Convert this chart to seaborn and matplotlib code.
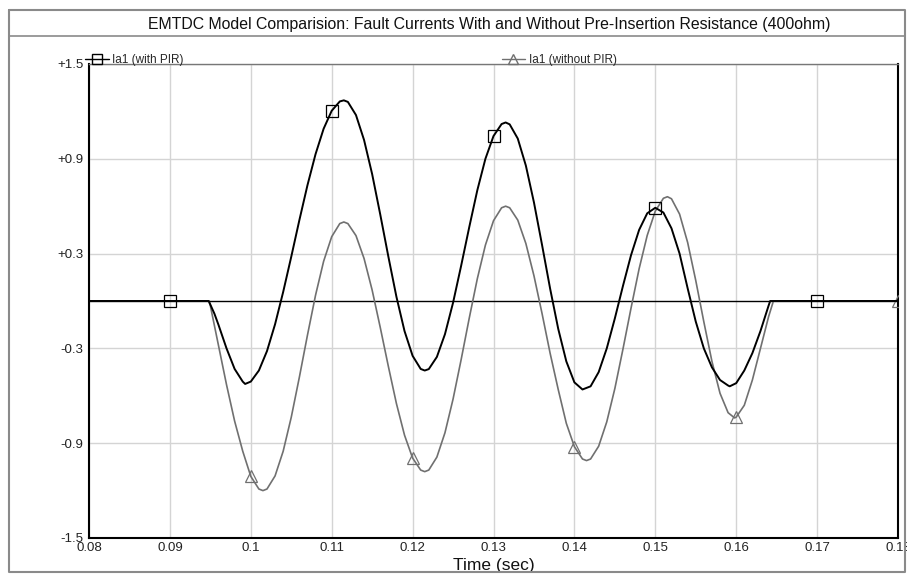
import numpy as np
import pandas as pd
import matplotlib
matplotlib.use("Agg")
import matplotlib.pyplot as plt
from matplotlib.lines import Line2D
import seaborn as sns

# ---------------- data ----------------
t_with = [0.080, 0.090, 0.0948, 0.0955, 0.096, 0.097, 0.098, 0.099, 0.0993,
          0.100, 0.101, 0.102, 0.103, 0.104, 0.105, 0.106, 0.107, 0.108, 0.109,
          0.110, 0.111, 0.1115, 0.112, 0.113, 0.114, 0.115, 0.116, 0.117, 0.118,
          0.119, 0.120, 0.121, 0.1215, 0.122, 0.123, 0.124, 0.125, 0.126, 0.127,
          0.128, 0.129, 0.130, 0.131, 0.1315, 0.132, 0.133, 0.134, 0.135, 0.136,
          0.137, 0.138, 0.139, 0.140, 0.141, 0.142, 0.143, 0.144, 0.145, 0.146,
          0.147, 0.148, 0.149, 0.150, 0.151, 0.152, 0.153, 0.154, 0.155, 0.156,
          0.157, 0.158, 0.159, 0.1592, 0.160, 0.161, 0.162, 0.163, 0.164, 0.1642,
          0.170, 0.180]
ia_with = [0.0, 0.0, 0.0, -0.08, -0.15, -0.30, -0.43, -0.51, -0.525,
           -0.51, -0.44, -0.317, -0.147, 0.057, 0.28, 0.511, 0.732, 0.929, 1.09,
           1.204, 1.263, 1.27, 1.26, 1.177, 1.019, 0.803, 0.548, 0.282, 0.027,
           -0.19, -0.347, -0.43, -0.44, -0.431, -0.354, -0.21, -0.011, 0.223, 0.467,
           0.701, 0.90, 1.044, 1.12, 1.13, 1.118, 1.028, 0.857, 0.624, 0.355,
           0.078, -0.176, -0.382, -0.515, -0.56, -0.54, -0.45, -0.30, -0.11, 0.095,
           0.29, 0.45, 0.555, 0.59, 0.56, 0.46, 0.30, 0.08, -0.13, -0.30,
           -0.42, -0.50, -0.535, -0.54, -0.52, -0.44, -0.33, -0.19, -0.03, 0.0,
           0.0, 0.0]

t_without = [0.080, 0.090, 0.0948, 0.095, 0.096, 0.097, 0.098, 0.099, 0.100,
             0.101, 0.1015, 0.102, 0.103, 0.104, 0.105, 0.106, 0.107, 0.108, 0.109,
             0.110, 0.111, 0.1115, 0.112, 0.113, 0.114, 0.115, 0.116, 0.117, 0.118,
             0.119, 0.120, 0.121, 0.1215, 0.122, 0.123, 0.124, 0.125, 0.126, 0.127,
             0.128, 0.129, 0.130, 0.131, 0.1315, 0.132, 0.133, 0.134, 0.135, 0.136,
             0.137, 0.138, 0.139, 0.140, 0.141, 0.1415, 0.142, 0.143, 0.144, 0.145,
             0.146, 0.147, 0.148, 0.149, 0.150, 0.151, 0.1515, 0.152, 0.153, 0.154,
             0.155, 0.156, 0.157, 0.158, 0.159, 0.1598, 0.160, 0.161, 0.162, 0.163,
             0.164, 0.1646, 0.170, 0.180]
ia_without = [0.0, 0.0, 0.0, -0.03, -0.28, -0.53, -0.76, -0.95, -1.11,
              -1.19, -1.20, -1.19, -1.107, -0.951, -0.736, -0.483, -0.217, 0.036, 0.251,
              0.407, 0.49, 0.50, 0.49, 0.414, 0.269, 0.069, -0.167, -0.413, -0.649,
              -0.849, -0.994, -1.07, -1.08, -1.07, -0.988, -0.834, -0.621, -0.371, -0.109,
              0.141, 0.354, 0.508, 0.59, 0.60, 0.59, 0.512, 0.364, 0.16, -0.079,
              -0.331, -0.56, -0.774, -0.922, -1.00, -1.01, -1.00, -0.919, -0.765, -0.554,
              -0.305, -0.045, 0.204, 0.415, 0.569, 0.65, 0.66, 0.647, 0.55, 0.37,
              0.13, -0.132, -0.382, -0.584, -0.707, -0.74, -0.735, -0.66, -0.50, -0.30,
              -0.10, 0.0, 0.0, 0.0]

marker_t_with = [0.09, 0.11, 0.13, 0.15, 0.17]
marker_t_without = [0.10, 0.12, 0.14, 0.16, 0.18]

label_with = "Ia1 (with PIR)"
label_without = "Ia1 (without PIR)"
title = "EMTDC Model Comparision: Fault Currents With and Without Pre-Insertion Resistance (400ohm)"
xlabel = "Time (sec)"
x_ticks = [0.08, 0.09, 0.10, 0.11, 0.12, 0.13, 0.14, 0.15, 0.16, 0.17, 0.18]
x_ticklabels = ["0.08", "0.09", "0.1", "0.11", "0.12", "0.13", "0.14",
                "0.15", "0.16", "0.17", "0.18"]
y_ticks = [1.5, 0.9, 0.3, -0.3, -0.9, -1.5]
y_ticklabels = ["+1.5", "+0.9", "+0.3", "-0.3", "-0.9", "-1.5"]

# ---------------- plotting ----------------
sns.set_theme(style="white")
plt.rcParams["font.family"] = ["Liberation Sans", "DejaVu Sans"]

df_with = pd.DataFrame({"t": t_with, "ia": ia_with})
df_without = pd.DataFrame({"t": t_without, "ia": ia_without})

fig = plt.figure(figsize=(9.07, 5.74), dpi=100)
W, H = 907, 574
ax = fig.add_axes([89 / W, 1 - 538 / H, (898 - 89) / W, (538 - 64) / H])

# zero reference line
ax.axhline(0, color="black", lw=1.0, zorder=1.5)

def mark_idx(ts, mts):
    ts = np.round(np.asarray(ts), 5)
    return [int(i) for i, v in enumerate(ts) if np.any(np.isclose(v, mts))]

sns.lineplot(data=df_without, x="t", y="ia", ax=ax, color="#707070", lw=1.2,
             estimator=None, sort=False, marker="^", markersize=8,
             markerfacecolor="none", markeredgecolor="#707070", markeredgewidth=0.9,
             markevery=mark_idx(t_without, marker_t_without), zorder=3)
sns.lineplot(data=df_with, x="t", y="ia", ax=ax, color="black", lw=1.4,
             estimator=None, sort=False, marker="s", markersize=8,
             markerfacecolor="none", markeredgecolor="black", markeredgewidth=0.9,
             markevery=mark_idx(t_with, marker_t_with), zorder=4)

ax.set_xlim(0.08, 0.18)
ax.set_ylim(-1.5, 1.5)
ax.set_xticks(x_ticks)
ax.set_xticklabels(x_ticklabels)
ax.set_yticks(y_ticks)
ax.set_yticklabels(y_ticklabels)
ax.grid(True, color="#d4d4d4", lw=1.0)
ax.set_axisbelow(True)
ax.tick_params(axis="both", direction="in", length=5, width=1.2, color="#555555",
               labelsize=9.5, labelcolor="#222222")
ax.tick_params(axis="x", pad=3)
ax.tick_params(axis="y", pad=4)
ax.set_xlabel(xlabel, fontsize=12.5, labelpad=3, color="#111111")
ax.set_ylabel("")

for side in ["left", "bottom", "right"]:
    ax.spines[side].set_color("black")
    ax.spines[side].set_linewidth(1.5)
ax.spines["top"].set_color("#777777")
ax.spines["top"].set_linewidth(1.0)

# legends above the axes
h_with = Line2D([], [], color="black", lw=1.0, marker="s", markersize=7,
                markerfacecolor="none", markeredgecolor="black")
h_without = Line2D([], [], color="#707070", lw=1.0, marker="^", markersize=7,
                   markerfacecolor="none", markeredgecolor="#707070")
leg1 = ax.legend([h_with], [label_with], loc="lower left",
                 bbox_to_anchor=(-0.005, 0.995), frameon=False, fontsize=8.5,
                 handlelength=2.0, handletextpad=0.3, borderpad=0, borderaxespad=0)
ax.add_artist(leg1)
ax.legend([h_without], [label_without], loc="lower left",
          bbox_to_anchor=(0.51, 0.995), frameon=False, fontsize=8.5,
          handlelength=2.0, handletextpad=0.3, borderpad=0, borderaxespad=0)

# title and frame
fig.text(489 / W, 1 - 24 / H, title, ha="center", va="center", fontsize=11.4,
         color="#111111")
frame_col = "#8a8a8a"
fig.add_artist(Line2D([9 / W, 905 / W, 905 / W, 9 / W, 9 / W],
                      [1 - 10 / H, 1 - 10 / H, 1 - 572 / H, 1 - 572 / H, 1 - 10 / H],
                      color=frame_col, lw=1.5, transform=fig.transFigure))
fig.add_artist(Line2D([9 / W, 905 / W], [1 - 36 / H, 1 - 36 / H],
                      color=frame_col, lw=1.2, transform=fig.transFigure))

fig.savefig("out.png", dpi=100)
